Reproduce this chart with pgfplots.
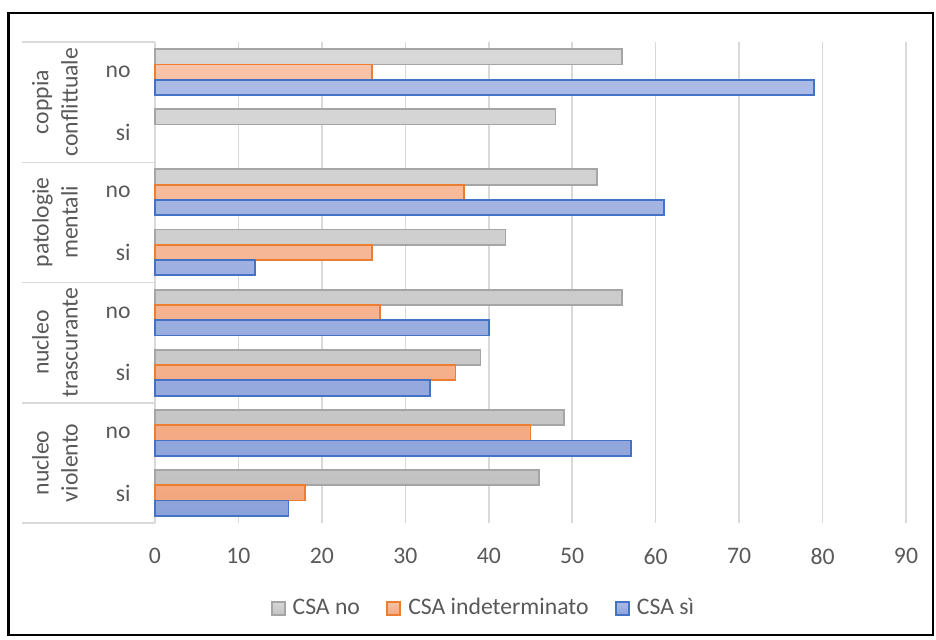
\documentclass[border=0pt]{standalone}
\usepackage{fontspec}
\setmainfont{Carlito}
\usepackage{pgfplots}
\pgfplotsset{compat=1.18}

\definecolor{txt}{HTML}{595959}
\definecolor{gridc}{HTML}{D9D9D9}
\definecolor{greyT}{HTML}{D8D8D8}
\definecolor{greyB}{HTML}{C3C3C3}
\definecolor{greyE}{HTML}{A5A5A5}
\definecolor{oraT}{HTML}{F8C3A7}
\definecolor{oraB}{HTML}{F3A77F}
\definecolor{oraE}{HTML}{ED7D31}
\definecolor{bluT}{HTML}{ACBBE6}
\definecolor{bluB}{HTML}{8CA2DA}
\definecolor{bluE}{HTML}{4472C4}

\newcommand{\chartfont}{\fontsize{11.85}{14.6}\selectfont}

\begin{document}
\begin{tikzpicture}
\useasboundingbox (0,0) rectangle (468pt,-320pt);
\draw[line width=1.2pt] (4.2pt,-6.4pt) rectangle (466.6pt,-317.6pt);

\begin{axis}[
  at={(77.5pt,-261.5pt)}, anchor=south west,
  scale only axis, width=375.5pt, height=240.5pt,
  xmin=0, xmax=90, ymin=-0.5, ymax=7.5,
  xbar, bar width=7.65pt,
  xtick={0,10,...,90},
  ytick={0,...,7},
  yticklabels={si,no,si,no,si,no,si,no},
  xmajorgrids, grid style={gridc, line width=0.75pt},
  axis x line*=bottom, axis y line*=left,
  x axis line style={draw=none},
  y axis line style={gridc, line width=0.75pt},
  major tick length=0pt, tick style={draw=none},
  ticklabel style={font=\chartfont, text=txt},
  xticklabel style={inner sep=0pt, yshift=-12.5pt},
  yticklabel style={inner sep=0pt, xshift=-12pt},
  /pgf/number format/assume math mode=true,
  clip=false,
  legend columns=3,
  legend style={at={(0.436,-0.177)}, anchor=center, draw=none, fill=none,
    font=\chartfont, text=txt, inner sep=0pt, column sep=0pt,
    nodes={inner sep=0pt},
    /tikz/every odd column/.append style={column sep=3.5pt},
    /tikz/every even column/.append style={column sep=13.25pt}},
  legend image code/.code={\draw[#1] (0pt,-3.25pt) rectangle (6.5pt,3.25pt);},
]
% CSA no
\addplot[bar shift=7.65pt, top color=greyT, bottom color=greyB, draw=greyE, line width=0.9pt]
  coordinates {(46,0) (49,1) (39,2) (56,3) (42,4) (53,5) (48,6) (56,7)};
% CSA indeterminato
\addplot[bar shift=0pt, top color=oraT, bottom color=oraB, draw=oraE, line width=0.9pt]
  coordinates {(18,0) (45,1) (36,2) (27,3) (26,4) (37,5) (26,7)};
% CSA si
\addplot[bar shift=-7.65pt, top color=bluT, bottom color=bluB, draw=bluE, line width=0.9pt]
  coordinates {(16,0) (57,1) (33,2) (40,3) (12,4) (61,5) (79,7)};
\legend{CSA no, CSA indeterminato, CSA sì}

% group separators of the two-level category axis
\pgfplotsinvokeforeach{7.5,5.5,3.5,1.5,-0.5}{
  \draw[gridc, line width=0.75pt] ([xshift=-66.5pt]axis cs:0,#1) -- (axis cs:0,#1);
}
\node[rotate=90, align=center, font=\chartfont, text=txt] at ([xshift=-50pt]axis cs:0,6.5) {coppia\\conflittuale};
\node[rotate=90, align=center, font=\chartfont, text=txt] at ([xshift=-50pt]axis cs:0,4.5) {patologie\\mentali};
\node[rotate=90, align=center, font=\chartfont, text=txt] at ([xshift=-50pt]axis cs:0,2.5) {nucleo\\trascurante};
\node[rotate=90, align=center, font=\chartfont, text=txt] at ([xshift=-50pt]axis cs:0,0.5) {nucleo\\violento};
\end{axis}
\end{tikzpicture}
\end{document}
